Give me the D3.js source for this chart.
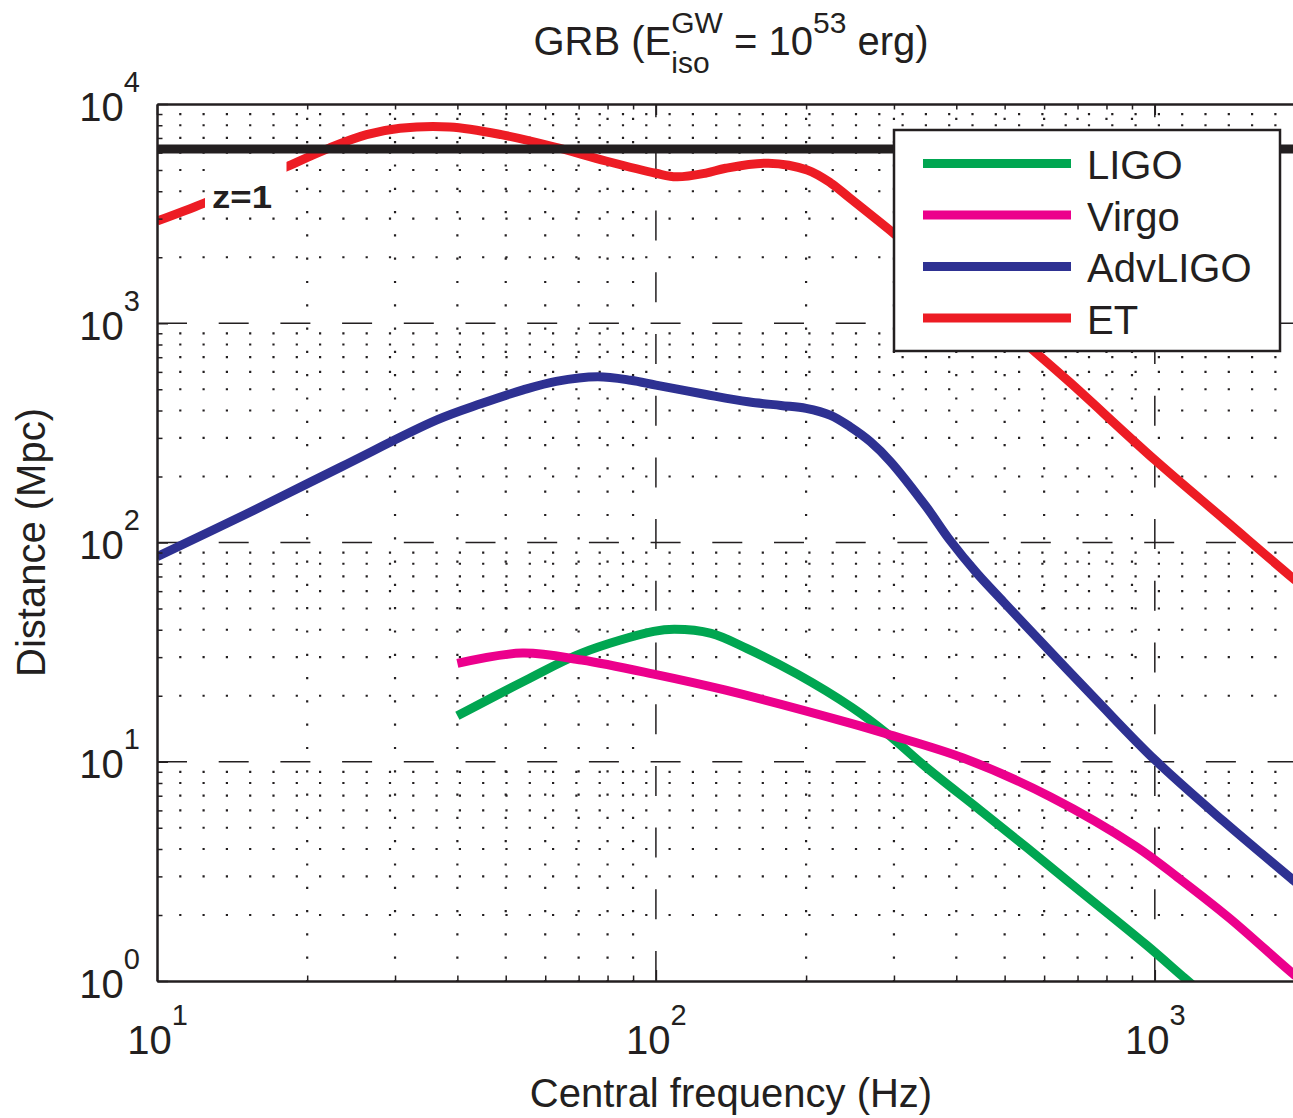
<!DOCTYPE html>
<html>
<head>
<meta charset="utf-8">
<script src="https://cdn.jsdelivr.net/npm/d3@7"></script>
<style>
  html, body { margin: 0; padding: 0; background: #ffffff; }
  svg { display: block; font-family: "Liberation Sans", Arial, Helvetica, sans-serif; }
  .title text { white-space: pre; }
</style>
</head>
<body>
<svg id="chart" width="1293" height="1118"></svg>
<script>
// Detection distance (Mpc) versus central frequency (Hz) for each detector
const ligoFreq = [40, 55, 71, 99, 109, 129, 152, 192, 247, 290, 348, 446, 553, 665, 962, 1148, 1260];
const ligoDist = [16.2, 23.6, 31.3, 39.3, 40.2, 38.5, 32.9, 25.1, 17.7, 13.5, 9.44, 6.03, 4.07, 2.89, 1.46, 1.03, 0.86];

const virgoFreq = [40, 54, 71, 99, 138, 245, 290, 413, 617, 918, 1122, 1413, 1892, 2000];
const virgoDist = [28.1, 31.3, 29.1, 25.1, 21.2, 15.0, 13.4, 10.4, 6.93, 4.10, 2.92, 1.93, 1.08, 0.98];

const advFreq = [10, 15.1, 23.4, 36.4, 44.7, 54.2, 63.1, 76.4, 89.1, 100, 126, 153, 178, 200, 224, 245, 269, 295, 348, 388, 440, 497, 545, 764, 1000, 1371, 1892, 2000];
const advDist = [86.1, 134.9, 221.3, 362.2, 430, 496.6, 543.3, 570.2, 549.5, 522.4, 473.2, 438.5, 421.7, 409.3, 380.2, 337.3, 288.4, 234.4, 145.9, 102.8, 72.4, 53.7, 42.9, 19.1, 10.2, 5.37, 2.89, 2.6];

const etFreq = [10, 12.4, 15.1, 18.2, 22.2, 26.3, 30.7, 38.6, 49, 62.4, 79.4, 100, 110, 126, 138, 168, 201, 224, 245, 299, 355, 447, 579, 676, 1000, 1380, 1892, 2000];
const etDist = [2924, 3524, 4266, 5176, 6310, 7244, 7745, 7852, 7244, 6383, 5495, 4831, 4656, 4842, 5093, 5370, 5000, 4365, 3715, 2582, 1862, 1202, 731, 537, 238, 127, 68.7, 62];

const seriesNames = ["LIGO", "Virgo", "AdvLIGO", "ET"];
const seriesColors = ["#00a651", "#ec008c", "#2e3192", "#ed1c24"];

// Distance of redshift z = 1 (horizontal reference line)
const zOneDistance = 6240;
const zOneLabel = "z=1";

// Axis ticks
const xMajorTicks = [10, 100, 1000];
const xMinorTicks = [20, 30, 40, 50, 60, 70, 80, 90, 200, 300, 400, 500, 600, 700, 800, 900];
const yMajorTicks = [1, 10, 100, 1000, 10000];
const yMinorTicks = [2, 3, 4, 5, 6, 7, 8, 9, 20, 30, 40, 50, 60, 70, 80, 90,
                     200, 300, 400, 500, 600, 700, 800, 900, 2000, 3000, 4000, 5000, 6000, 7000, 8000, 9000];

const xLabel = "Central frequency (Hz)";
const yLabel = "Distance (Mpc)";

const ink = "#231f20";
const margin = { left: 157, right: 1305, top: 104, bottom: 981 };

const svg = d3.select("#chart");

const x = d3.scaleLog().domain([10, 2000]).range([margin.left, margin.right]);
const y = d3.scaleLog().domain([1, 10000]).range([margin.bottom, margin.top]);

svg.append("defs").append("clipPath").attr("id", "plotClip")
  .append("rect")
  .attr("x", margin.left).attr("y", margin.top)
  .attr("width", margin.right - margin.left).attr("height", margin.bottom - margin.top);

// ---- grid ----
const grid = svg.append("g").attr("class", "grid").attr("clip-path", "url(#plotClip)");
const dotted = "2.2 21.1";
const dashed = "30 31.7";

grid.selectAll("line.vminor").data(xMinorTicks).join("line")
  .attr("class", "vminor")
  .attr("x1", d => x(d)).attr("x2", d => x(d))
  .attr("y1", y.range()[0]).attr("y2", y.range()[1])
  .attr("stroke", ink).attr("stroke-width", 2.2)
  .attr("stroke-dasharray", dotted).attr("stroke-dashoffset", 1.1);

grid.selectAll("line.hminor").data(yMinorTicks).join("line")
  .attr("class", "hminor")
  .attr("x1", x.range()[0]).attr("x2", x.range()[1])
  .attr("y1", d => y(d)).attr("y2", d => y(d))
  .attr("stroke", ink).attr("stroke-width", 2.2)
  .attr("stroke-dasharray", dotted).attr("stroke-dashoffset", 1.1);

grid.selectAll("line.vmajor").data(xMajorTicks.slice(1)).join("line")
  .attr("class", "vmajor")
  .attr("x1", d => x(d)).attr("x2", d => x(d))
  .attr("y1", y.range()[0]).attr("y2", y.range()[1])
  .attr("stroke", ink).attr("stroke-width", 1.5).attr("stroke-dasharray", dashed);

grid.selectAll("line.hmajor").data(yMajorTicks.slice(1, -1)).join("line")
  .attr("class", "hmajor")
  .attr("x1", x.range()[0]).attr("x2", x.range()[1])
  .attr("y1", d => y(d)).attr("y2", d => y(d))
  .attr("stroke", ink).attr("stroke-width", 1.5).attr("stroke-dasharray", dashed);

// ---- curves ----
const series = [
  { name: seriesNames[0], color: seriesColors[0], f: ligoFreq, d: ligoDist },
  { name: seriesNames[1], color: seriesColors[1], f: virgoFreq, d: virgoDist },
  { name: seriesNames[2], color: seriesColors[2], f: advFreq, d: advDist },
  { name: seriesNames[3], color: seriesColors[3], f: etFreq, d: etDist }
];

const line = d3.line()
  .x(p => x(p[0]))
  .y(p => y(p[1]))
  .curve(d3.curveCatmullRom.alpha(0.5));

const curves = svg.append("g").attr("class", "curves").attr("clip-path", "url(#plotClip)");
curves.selectAll("path").data(series).join("path")
  .attr("d", s => line(s.f.map((f, i) => [f, s.d[i]])))
  .attr("fill", "none")
  .attr("stroke", s => s.color)
  .attr("stroke-width", 9)
  .attr("stroke-linejoin", "round");

// ---- z = 1 reference line ----
curves.append("line")
  .attr("x1", x.range()[0]).attr("x2", x.range()[1])
  .attr("y1", y(zOneDistance)).attr("y2", y(zOneDistance))
  .attr("stroke", ink).attr("stroke-width", 9);

// label with white background box
const zx = x(10) + 55, zy = y(zOneDistance) + 59.5;
const zLab = svg.append("g").attr("class", "zlabel");
zLab.append("rect")
  .attr("x", zx - 7).attr("y", zy - 53.5)
  .attr("width", 81.5).attr("height", 59)
  .attr("fill", "#ffffff");
zLab.append("text")
  .attr("x", zx).attr("y", zy)
  .attr("font-size", 31).attr("font-weight", "bold")
  .attr("textLength", 60).attr("lengthAdjust", "spacingAndGlyphs")
  .attr("fill", ink)
  .text(zOneLabel);

// ---- axes ----
function styleAxis(g) {
  g.select(".domain").attr("stroke", ink).attr("stroke-width", 2.5);
  g.selectAll(".tick line").attr("stroke", ink).attr("stroke-width", 1.5);
}
function powerLabel(sel, baseY, supDy) {
  sel.each(function (d) {
    const t = d3.select(this);
    const e = Math.round(Math.log10(d));
    t.text(null).attr("dy", null).attr("y", baseY).attr("fill", ink);
    t.append("tspan").attr("font-size", 40).text("10");
    t.append("tspan").attr("font-size", 29).attr("dy", supDy).text(e);
  });
}

// bottom
const xAxisMinor = svg.append("g").attr("transform", `translate(0,${margin.bottom})`)
  .call(d3.axisBottom(x).tickValues(xMinorTicks).tickSize(-5.5).tickSizeOuter(0).tickFormat(""));
xAxisMinor.select(".domain").remove();
styleAxis(xAxisMinor);

const xAxis = svg.append("g").attr("transform", `translate(0,${margin.bottom})`)
  .call(d3.axisBottom(x).tickValues(xMajorTicks).tickSize(-11).tickSizeOuter(0));
styleAxis(xAxis);
xAxis.selectAll(".tick text").attr("text-anchor", "middle").call(powerLabel, 73, -29);

// top
const xTopMinor = svg.append("g").attr("transform", `translate(0,${margin.top})`)
  .call(d3.axisTop(x).tickValues(xMinorTicks).tickSize(-5.5).tickSizeOuter(0).tickFormat(""));
xTopMinor.select(".domain").remove();
styleAxis(xTopMinor);
const xTop = svg.append("g").attr("transform", `translate(0,${margin.top})`)
  .call(d3.axisTop(x).tickValues(xMajorTicks).tickSize(-11).tickSizeOuter(0).tickFormat(""));
styleAxis(xTop);

// left
const yAxisMinor = svg.append("g").attr("transform", `translate(${margin.left},0)`)
  .call(d3.axisLeft(y).tickValues(yMinorTicks).tickSize(-5.5).tickSizeOuter(0).tickFormat(""));
yAxisMinor.select(".domain").remove();
styleAxis(yAxisMinor);

const yAxis = svg.append("g").attr("transform", `translate(${margin.left},0)`)
  .call(d3.axisLeft(y).tickValues(yMajorTicks).tickSize(-11).tickSizeOuter(0));
styleAxis(yAxis);
yAxis.selectAll(".tick text").attr("text-anchor", "end").attr("x", -17).call(powerLabel, 16, -29);

// right
const yRight = svg.append("g").attr("transform", `translate(${margin.right},0)`)
  .call(d3.axisRight(y).tickValues(yMajorTicks).tickSize(-11).tickSizeOuter(0).tickFormat(""));
styleAxis(yRight);

// ---- axis titles ----
svg.append("text")
  .attr("x", (margin.left + margin.right) / 2).attr("y", 1107)
  .attr("text-anchor", "middle").attr("font-size", 40).attr("fill", ink)
  .text(xLabel);

svg.append("text")
  .attr("transform", `translate(45,${(margin.top + margin.bottom) / 2}) rotate(-90)`)
  .attr("text-anchor", "middle").attr("font-size", 40).attr("fill", ink)
  .text(yLabel);

// ---- title: GRB (E^GW_iso = 10^53 erg) ----
const title = svg.append("g").attr("class", "title").attr("fill", ink);
let cursor = 0;
function piece(str, size, base) {
  return title.append("text").attr("x", cursor).attr("y", base)
    .attr("font-size", size).attr("xml:space", "preserve").text(str);
}
function width(t) { return t.node().getComputedTextLength(); }
let tp = piece("GRB (E", 40, 55); cursor += width(tp);
const supGW = piece("GW", 30, 33);
const subIso = piece("iso", 30, 73);
cursor += Math.max(width(supGW), width(subIso));
tp = piece(" = 10", 40, 55); cursor += width(tp);
tp = piece("53", 30, 33); cursor += width(tp);
tp = piece(" erg)", 40, 55); cursor += width(tp);
title.attr("transform", `translate(${(margin.left + margin.right) / 2 - cursor / 2},0)`);

// ---- legend ----
const legend = svg.append("g").attr("class", "legend");
legend.append("rect")
  .attr("x", 894).attr("y", 130).attr("width", 386).attr("height", 221)
  .attr("fill", "#ffffff").attr("stroke", ink).attr("stroke-width", 2.5);
const items = legend.selectAll("g.item").data(series).join("g")
  .attr("class", "item")
  .attr("transform", (s, i) => `translate(0,${163.5 + i * 51.5})`);
items.append("line")
  .attr("x1", 923).attr("x2", 1071).attr("y1", 0).attr("y2", 0)
  .attr("stroke", s => s.color).attr("stroke-width", 9);
items.append("text")
  .attr("x", 1087).attr("y", 15.5)
  .attr("font-size", 40).attr("fill", ink)
  .text(s => s.name);
</script>
</body>
</html>
